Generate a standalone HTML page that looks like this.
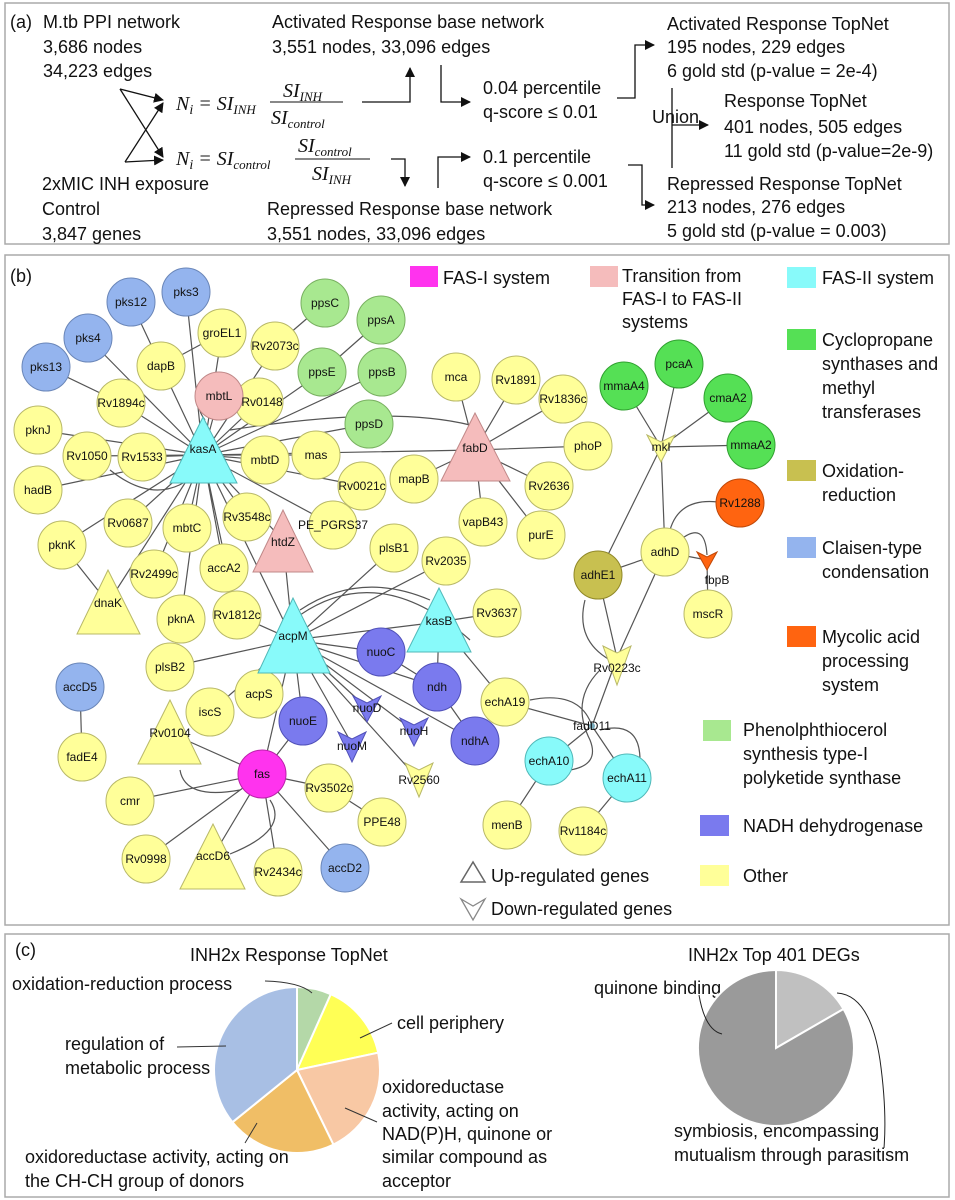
<!DOCTYPE html>
<html><head><meta charset="utf-8"><style>
html,body{margin:0;padding:0;background:#fff;}
svg{display:block;font-family:"Liberation Sans",sans-serif;}
.t{font-size:18px;fill:#111;}
.n{font-size:12px;fill:#111;text-anchor:middle;dominant-baseline:central;}
.f{font-family:"Liberation Serif",serif;font-style:italic;fill:#111;}
.y{fill:#ffff99;stroke:#b8b868;stroke-width:1}
.bl{fill:#94b4ee;stroke:#6a86b8;stroke-width:1}
.lg{fill:#a8e890;stroke:#78b060;stroke-width:1}
.g{fill:#55e055;stroke:#30a030;stroke-width:1}
.pk{fill:#f5bcbc;stroke:#c08888;stroke-width:1}
.cy{fill:#88fafa;stroke:#50b8b8;stroke-width:1}
.pu{fill:#7a7aee;stroke:#5050b8;stroke-width:1}
</style></head><body>
<svg width="955" height="1200" viewBox="0 0 955 1200" xmlns="http://www.w3.org/2000/svg">
<defs><marker id="ar" markerWidth="10" markerHeight="10" refX="9" refY="5" orient="auto" markerUnits="userSpaceOnUse"><path d="M0,0 L10,5 L0,10 z" fill="#111"/></marker></defs>
<rect x="5" y="3" width="944" height="241" fill="none" stroke="#aaa" stroke-width="1.5"/>
<rect x="5" y="255" width="944" height="670" fill="none" stroke="#aaa" stroke-width="1.5"/>
<rect x="5" y="934" width="944" height="263" fill="none" stroke="#aaa" stroke-width="1.5"/>

<g class="t">
<text x="10" y="28">(a)</text>
<text x="43" y="28">M.tb PPI network</text>
<text x="43" y="53">3,686 nodes</text>
<text x="43" y="77">34,223 edges</text>
<text x="42" y="190">2xMIC INH exposure</text>
<text x="42" y="215">Control</text>
<text x="42" y="240">3,847 genes</text>
<text x="272" y="28">Activated Response base network</text>
<text x="272" y="53">3,551 nodes, 33,096 edges</text>
<text x="267" y="215">Repressed Response base network</text>
<text x="267" y="240">3,551 nodes, 33,096 edges</text>
<text x="483" y="94">0.04 percentile</text>
<text x="483" y="118">q-score ≤ 0.01</text>
<text x="483" y="163">0.1 percentile</text>
<text x="483" y="187">q-score ≤ 0.001</text>
<text x="667" y="30">Activated Response TopNet</text>
<text x="667" y="53">195 nodes, 229 edges</text>
<text x="667" y="77">6 gold std (p-value = 2e-4)</text>
<text x="652" y="123">Union</text>
<text x="724" y="107">Response TopNet</text>
<text x="724" y="133">401 nodes, 505 edges</text>
<text x="724" y="157">11 gold std (p-value=2e-9)</text>
<text x="667" y="190">Repressed Response TopNet</text>
<text x="667" y="213">213 nodes, 276 edges</text>
<text x="667" y="237">5 gold std (p-value = 0.003)</text>
</g>
<g class="f">
<text x="176" y="110" font-size="20">N<tspan font-size="14" dy="4">i</tspan><tspan dy="-4"> = SI</tspan><tspan font-size="13" dy="4">INH</tspan></text>
<text x="283" y="97" font-size="20">SI<tspan font-size="13" dy="4">INH</tspan></text>
<line x1="270" y1="102" x2="343" y2="102" stroke="#111"/>
<text x="271" y="124" font-size="20">SI<tspan font-size="13" dy="4">control</tspan></text>
<text x="176" y="165" font-size="20">N<tspan font-size="14" dy="4">i</tspan><tspan dy="-4"> = SI</tspan><tspan font-size="13" dy="4">control</tspan></text>
<text x="298" y="152" font-size="20">SI<tspan font-size="13" dy="4">control</tspan></text>
<line x1="295" y1="159" x2="370" y2="159" stroke="#111"/>
<text x="312" y="180" font-size="20">SI<tspan font-size="13" dy="4">INH</tspan></text>
</g>
<g stroke="#111" stroke-width="1.3" fill="none">
<line x1="120" y1="89" x2="163" y2="100" marker-end="url(#ar)"/>
<line x1="120" y1="89" x2="163" y2="157" marker-end="url(#ar)"/>
<line x1="125" y1="162" x2="163" y2="103" marker-end="url(#ar)"/>
<line x1="125" y1="162" x2="163" y2="160" marker-end="url(#ar)"/>
<path d="M362 102 H410 V68" marker-end="url(#ar)"/>
<path d="M441 65 V102 H470" marker-end="url(#ar)"/>
<path d="M391 159 H405 V186" marker-end="url(#ar)"/>
<path d="M438 188 V157 H470" marker-end="url(#ar)"/>
<path d="M617 98 H635 V45 H654" marker-end="url(#ar)"/>
<path d="M628 165 H642 V205 H654" marker-end="url(#ar)"/>
<line x1="672" y1="88" x2="672" y2="168"/>
<line x1="672" y1="125" x2="708" y2="125" marker-end="url(#ar)"/>
</g>

<text x="10" y="282" class="t">(b)</text>
<g stroke="#555" stroke-width="1.2" fill="none">
<path d="M203 455 L186 292 M203 455 L88 338 M203 455 L161 366 M203 455 L222 333 M203 455 L219 396 M203 455 L259 402 M203 455 L275 346 M203 455 L322 372 M203 455 L382 372 M203 455 L121 403 M203 455 L38 430 M203 455 L87 456 M203 455 L142 457 M203 455 L38 490 M203 455 L128 523 M203 455 L187 528 M203 455 L247 517 M203 455 L224 568 M203 455 L154 574 M203 455 L62 545 M203 455 L108 603 M203 455 L265 460 M203 455 L316 455 M203 455 L362 486 M203 455 L369 424 M203 455 L475 450 M203 455 L333 525 M203 455 L283 540 M203 455 L237 615 M203 455 L293 640 M203 455 L181 619"/>
<path d="M121 403 L46 367 M131 302 L161 366 M161 366 L222 333 M275 346 L325 303 M322 372 L381 320 M62 545 L108 603"/>
<path d="M230 430 Q390 405 470 425 M110 470 Q160 510 200 470 M205 420 Q190 400 215 395"/>
<path d="M475 450 L456 377 M475 450 L516 380 M475 450 L563 399 M475 450 L588 446 M475 450 L549 486 M475 450 L541 535 M475 450 L483 522 M475 450 L414 479"/>
<path d="M293 640 L170 667 M293 640 L259 694 M293 640 L210 712 M293 640 L303 721 M293 640 L367 708 M293 640 L352 744 M293 640 L414 731 M293 640 L475 741 M293 640 L437 687 M293 640 L381 652 M293 640 L439 622 M293 640 L446 561 M293 640 L394 548 M293 640 L283 540 M293 640 L237 615 M293 640 L419 780 M293 640 L262 774"/>
<path d="M300 610 Q360 570 430 600 M300 615 Q380 560 470 640"/>
<path d="M262 774 L170 733 M262 774 L130 801 M262 774 L146 859 M262 774 L213 856 M262 774 L278 872 M262 774 L345 868 M262 774 L329 788 M262 774 L303 721 M329 788 L382 822 M180 770 Q185 800 240 790 M270 800 Q290 830 230 854"/>
<path d="M439 622 L497 613 M439 622 L505 702 M439 622 L437 687 M437 687 L475 741 M381 652 L437 687"/>
<path d="M624 386 L661 447 M679 364 L661 447 M728 398 L661 447 M751 445 L661 447 M661 447 L665 552 M598 575 L661 447 M665 552 L707 560 M707 560 L708 614 M598 575 L665 552 M665 552 L617 658 M598 575 L617 658 M617 658 L592 726 M592 726 L505 702 M549 761 L592 726 M627 778 L592 726 M507 825 L549 761 M627 778 L583 831 M80 687 L82 757"/>
<path d="M670 530 Q680 495 725 503 M680 540 Q705 520 707 555 M585 600 Q575 640 610 660 M600 670 Q570 700 590 740 Q600 765 570 770 M530 700 Q580 690 592 726 M600 730 Q640 720 640 760"/>
</g>
<g>
<circle cx="131" cy="302" r="24" class="bl"/><circle cx="186" cy="292" r="24" class="bl"/><circle cx="88" cy="338" r="24" class="bl"/><circle cx="46" cy="367" r="24" class="bl"/>
<circle cx="80" cy="687" r="24" class="bl"/><circle cx="345" cy="868" r="24" class="bl"/>
<circle cx="325" cy="303" r="24" class="lg"/><circle cx="381" cy="320" r="24" class="lg"/><circle cx="322" cy="372" r="24" class="lg"/><circle cx="382" cy="372" r="24" class="lg"/><circle cx="369" cy="424" r="24" class="lg"/>
<circle cx="222" cy="333" r="24" class="y"/><circle cx="275" cy="346" r="24" class="y"/><circle cx="161" cy="366" r="24" class="y"/>
<circle cx="259" cy="402" r="24" class="y"/><circle cx="219" cy="396" r="24" class="pk"/>
<circle cx="121" cy="403" r="24" class="y"/><circle cx="38" cy="430" r="24" class="y"/><circle cx="87" cy="456" r="24" class="y"/><circle cx="142" cy="457" r="24" class="y"/>
<circle cx="38" cy="490" r="24" class="y"/><circle cx="265" cy="460" r="24" class="y"/><circle cx="316" cy="455" r="24" class="y"/><circle cx="362" cy="486" r="24" class="y"/>
<circle cx="128" cy="523" r="24" class="y"/><circle cx="187" cy="528" r="24" class="y"/><circle cx="247" cy="517" r="24" class="y"/><circle cx="333" cy="525" r="24" class="y"/>
<circle cx="62" cy="545" r="24" class="y"/><circle cx="154" cy="574" r="24" class="y"/><circle cx="224" cy="568" r="24" class="y"/><circle cx="394" cy="548" r="24" class="y"/><circle cx="446" cy="561" r="24" class="y"/>
<circle cx="181" cy="619" r="24" class="y"/><circle cx="237" cy="615" r="24" class="y"/><circle cx="170" cy="667" r="24" class="y"/>
<circle cx="259" cy="694" r="24" class="y"/><circle cx="210" cy="712" r="24" class="y"/>
<circle cx="82" cy="757" r="24" class="y"/><circle cx="130" cy="801" r="24" class="y"/><circle cx="146" cy="859" r="24" class="y"/><circle cx="278" cy="872" r="24" class="y"/>
<circle cx="329" cy="788" r="24" class="y"/><circle cx="382" cy="822" r="24" class="y"/>
<circle cx="456" cy="377" r="24" class="y"/><circle cx="516" cy="380" r="24" class="y"/><circle cx="563" cy="399" r="24" class="y"/><circle cx="588" cy="446" r="24" class="y"/>
<circle cx="414" cy="479" r="24" class="y"/><circle cx="549" cy="486" r="24" class="y"/><circle cx="483" cy="522" r="24" class="y"/><circle cx="541" cy="535" r="24" class="y"/>
<circle cx="497" cy="613" r="24" class="y"/><circle cx="505" cy="702" r="24" class="y"/><circle cx="507" cy="825" r="24" class="y"/><circle cx="583" cy="831" r="24" class="y"/>
<circle cx="665" cy="552" r="24" class="y"/><circle cx="708" cy="614" r="24" class="y"/>
<circle cx="598" cy="575" r="24" fill="#c8c050" stroke="#908828"/>
<circle cx="740" cy="503" r="24" fill="#ff6410" stroke="#c04808"/>
<circle cx="624" cy="386" r="24" class="g"/><circle cx="679" cy="364" r="24" class="g"/><circle cx="728" cy="398" r="24" class="g"/><circle cx="751" cy="445" r="24" class="g"/>
<circle cx="549" cy="761" r="24" class="cy"/><circle cx="627" cy="778" r="24" class="cy"/>
<circle cx="381" cy="652" r="24" class="pu"/><circle cx="437" cy="687" r="24" class="pu"/><circle cx="475" cy="741" r="24" class="pu"/><circle cx="303" cy="721" r="24" class="pu"/>
<circle cx="262" cy="774" r="24" fill="#ff33ee" stroke="#bb22aa"/>
<polygon points="203,417 170,483 237,483" class="cy"/>
<polygon points="293,598 258,673 330,673" class="cy"/>
<polygon points="439,588 407,652 471,652" class="cy"/>
<polygon points="475,413 441,481 510,481" class="pk"/>
<polygon points="283,510 253,572 313,572" class="pk"/>
<polygon points="108,570 77,634 140,634" class="y"/>
<polygon points="170,700 138,764 201,764" class="y"/>
<polygon points="213,824 180,889 245,889" class="y"/>
<polygon points="353,696 367,703 381,696 367,722" class="pu"/>
<polygon points="338,732 352,739 366,732 352,762" class="pu"/>
<polygon points="400,718 414,725 428,718 414,746" class="pu"/>
<polygon points="405,763 419,770 433,763 419,797" class="y"/>
<polygon points="647,435 661,442 675,435 661,462" class="y"/>
<polygon points="603,646 617,653 631,646 617,685" class="y"/>
<polygon points="697,552 707,557 717,552 707,570" fill="#ff6410" stroke="#c04808"/>
<circle cx="592" cy="726" r="3" fill="#7ab" />
</g>
<g class="n">
<text x="131" y="302">pks12</text><text x="186" y="292">pks3</text><text x="88" y="338">pks4</text><text x="46" y="367">pks13</text>
<text x="80" y="687">accD5</text><text x="345" y="868">accD2</text>
<text x="325" y="303">ppsC</text><text x="381" y="320">ppsA</text><text x="322" y="372">ppsE</text><text x="382" y="372">ppsB</text><text x="369" y="424">ppsD</text>
<text x="222" y="333">groEL1</text><text x="275" y="346">Rv2073c</text><text x="161" y="366">dapB</text>
<text x="219" y="396">mbtL</text><text x="262" y="402">Rv0148</text>
<text x="121" y="403">Rv1894c</text><text x="38" y="430">pknJ</text><text x="87" y="456">Rv1050</text><text x="142" y="457">Rv1533</text>
<text x="38" y="490">hadB</text><text x="265" y="460">mbtD</text><text x="316" y="455">mas</text><text x="362" y="486">Rv0021c</text>
<text x="128" y="523">Rv0687</text><text x="187" y="528">mbtC</text><text x="247" y="517">Rv3548c</text><text x="333" y="525">PE_PGRS37</text>
<text x="62" y="545">pknK</text><text x="154" y="574">Rv2499c</text><text x="224" y="568">accA2</text><text x="394" y="548">plsB1</text><text x="446" y="561">Rv2035</text>
<text x="181" y="619">pknA</text><text x="237" y="615">Rv1812c</text><text x="170" y="667">plsB2</text>
<text x="259" y="694">acpS</text><text x="210" y="712">iscS</text>
<text x="82" y="757">fadE4</text><text x="130" y="801">cmr</text><text x="146" y="859">Rv0998</text><text x="278" y="872">Rv2434c</text>
<text x="329" y="788">Rv3502c</text><text x="382" y="822">PPE48</text>
<text x="456" y="377">mca</text><text x="516" y="380">Rv1891</text><text x="563" y="399">Rv1836c</text><text x="588" y="446">phoP</text>
<text x="414" y="479">mapB</text><text x="549" y="486">Rv2636</text><text x="483" y="522">vapB43</text><text x="541" y="535">purE</text>
<text x="497" y="613">Rv3637</text><text x="505" y="702">echA19</text><text x="507" y="825">menB</text><text x="583" y="831">Rv1184c</text>
<text x="665" y="552">adhD</text><text x="708" y="614">mscR</text><text x="598" y="575">adhE1</text><text x="740" y="503">Rv1288</text>
<text x="624" y="386">mmaA4</text><text x="679" y="364">pcaA</text><text x="728" y="398">cmaA2</text><text x="751" y="445">mmaA2</text>
<text x="549" y="761">echA10</text><text x="627" y="778">echA11</text>
<text x="381" y="652">nuoC</text><text x="437" y="687">ndh</text><text x="475" y="741">ndhA</text><text x="303" y="721">nuoE</text>
<text x="262" y="774">fas</text>
<text x="203" y="449">kasA</text><text x="293" y="636">acpM</text><text x="439" y="621">kasB</text><text x="475" y="448">fabD</text><text x="283" y="542">htdZ</text>
<text x="108" y="603">dnaK</text><text x="170" y="733">Rv0104</text><text x="213" y="856">accD6</text>
<text x="367" y="708">nuoD</text><text x="352" y="746">nuoM</text><text x="414" y="731">nuoH</text><text x="419" y="780">Rv2560</text>
<text x="661" y="447">mkl</text><text x="617" y="668">Rv0223c</text><text x="717" y="580">fbpB</text><text x="592" y="726">fadD11</text>
</g>
<g class="t">
<rect x="410" y="266" width="28" height="21" fill="#ff33ee"/><text x="443" y="284">FAS-I system</text>
<rect x="590" y="266" width="28" height="21" fill="#f5bcbc"/><text x="622" y="282">Transition from</text><text x="622" y="305">FAS-I to FAS-II</text><text x="622" y="328">systems</text>
<rect x="787" y="267" width="29" height="21" fill="#88fafa"/><text x="822" y="284">FAS-II system</text>
<rect x="787" y="329" width="29" height="21" fill="#55e055"/><text x="822" y="346">Cyclopropane</text><text x="822" y="370">synthases and</text><text x="822" y="394">methyl</text><text x="822" y="418">transferases</text>
<rect x="787" y="460" width="29" height="21" fill="#c8c050"/><text x="822" y="477">Oxidation-</text><text x="822" y="501">reduction</text>
<rect x="787" y="537" width="29" height="21" fill="#94b4ee"/><text x="822" y="554">Claisen-type</text><text x="822" y="578">condensation</text>
<rect x="787" y="626" width="29" height="21" fill="#ff6410"/><text x="822" y="643">Mycolic acid</text><text x="822" y="667">processing</text><text x="822" y="691">system</text>
<rect x="703" y="720" width="28" height="21" fill="#a8e890"/><text x="743" y="736">Phenolphthiocerol</text><text x="743" y="760">synthesis type-I</text><text x="743" y="784">polyketide synthase</text>
<rect x="700" y="815" width="29" height="21" fill="#7a7aee"/><text x="743" y="832">NADH dehydrogenase</text>
<rect x="700" y="865" width="29" height="21" fill="#ffff99"/><text x="743" y="882">Other</text>
<polygon points="473,862 461,882 485,882" fill="none" stroke="#666" stroke-width="1.5"/><text x="491" y="882">Up-regulated genes</text>
<polygon points="461,899 473,906 485,899 473,920" fill="none" stroke="#888" stroke-width="1.3"/><text x="491" y="915">Down-regulated genes</text>
</g>

<g class="t">
<text x="15" y="956">(c)</text>
<text x="190" y="961">INH2x Response TopNet</text>
<text x="12" y="990">oxidation-reduction process</text>
<text x="397" y="1029">cell periphery</text>
<text x="65" y="1050">regulation of</text>
<text x="65" y="1074">metabolic process</text>
<text x="382" y="1093">oxidoreductase</text>
<text x="382" y="1117">activity, acting on</text>
<text x="382" y="1140">NAD(P)H, quinone or</text>
<text x="382" y="1163">similar compound as</text>
<text x="382" y="1187">acceptor</text>
<text x="25" y="1163">oxidoreductase activity, acting on</text>
<text x="25" y="1187">the CH-CH group of donors</text>
<text x="688" y="961">INH2x Top 401 DEGs</text>
<text x="594" y="994">quinone binding</text>
<text x="674" y="1137">symbiosis, encompassing</text>
<text x="674" y="1161">mutualism through parasitism</text>
</g>
<g stroke="#fff" stroke-width="2">
<path d="M297 1070 L297 987 A83 83 0 0 1 330.8 994.2 Z" fill="#b4d8a8"/>
<path d="M297 1070 L330.8 994.2 A83 83 0 0 1 378.2 1052.7 Z" fill="#ffff55"/>
<path d="M297 1070 L378.2 1052.7 A83 83 0 0 1 333.4 1144.6 Z" fill="#f8c8a4"/>
<path d="M297 1070 L333.4 1144.6 A83 83 0 0 1 232.5 1122.2 Z" fill="#f0be66"/>
<path d="M297 1070 L232.5 1122.2 A83 83 0 0 1 297 987 Z" fill="#a8bfe4"/>
</g>
<g stroke="#333" stroke-width="1" fill="none">
<path d="M265 981 Q300 982 312 993"/>
<line x1="392" y1="1023" x2="360" y2="1038"/>
<line x1="177" y1="1047" x2="226" y2="1046"/>
<line x1="345" y1="1108" x2="377" y2="1122"/>
<line x1="245" y1="1143" x2="257" y2="1123"/>
</g>
<g stroke="#fff" stroke-width="2">
<path d="M776 1048 L776 970 A78 78 0 0 1 843.5 1009 Z" fill="#c0c0c0"/>
<path d="M776 1048 L843.5 1009 A78 78 0 1 1 776 970 Z" fill="#9a9a9a"/>
</g>
<g stroke="#222" stroke-width="1" fill="none">
<path d="M699 995 Q705 1030 722 1034"/>
<path d="M837 993 Q870 995 880 1060 Q887 1110 884 1148"/>
</g>
</svg>
</body></html>
